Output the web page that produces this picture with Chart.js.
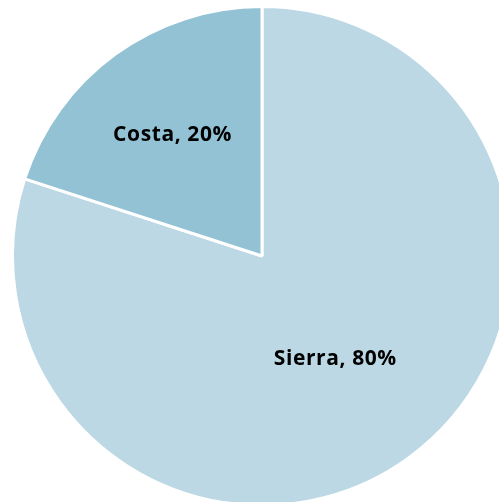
<!DOCTYPE html>
<html>
<head>
<meta charset="utf-8">
<script src="https://cdn.jsdelivr.net/npm/chart.js@4"></script>
<style>
  html, body { margin: 0; padding: 0; background: #fff; overflow: hidden; width: 499px; height: 502px; }
  #wrap { position: absolute; left: 0; top: 0; width: 524px; height: 512px; }
</style>
</head>
<body>
<div id="wrap"><canvas id="chart"></canvas></div>
<script>
// Données
const labels = ["Sierra", "Costa"];
const values = [80, 20];
const colors = ["#BCD8E4", "#93C2D4"];
// distance du libellé au centre, en fraction du rayon
const labelRadius = [0.5, 0.61];

const sliceLabels = {
  id: "sliceLabels",
  afterDatasetsDraw(chart) {
    const ctx = chart.ctx;
    const meta = chart.getDatasetMeta(0);
    const total = values.reduce((a, b) => a + b, 0);
    ctx.save();
    ctx.font = "bold 21px 'Open Sans', sans-serif";
    ctx.letterSpacing = "0.6px";
    ctx.fillStyle = "#000";
    ctx.textAlign = "center";
    ctx.textBaseline = "middle";
    meta.data.forEach((arc, i) => {
      const mid = (arc.startAngle + arc.endAngle) / 2;
      const r = arc.outerRadius * labelRadius[i];
      const x = arc.x + Math.cos(mid) * r;
      const y = arc.y + Math.sin(mid) * r + 2;
      const pct = Math.round(values[i] / total * 100);
      ctx.fillText(`${labels[i]}, ${pct}%`, x, y);
    });
    ctx.restore();
  }
};

new Chart(document.getElementById("chart").getContext("2d"), {
  type: "pie",
  data: {
    labels,
    datasets: [{
      data: values,
      backgroundColor: colors,
      borderColor: "#fff",
      borderWidth: 3
    }]
  },
  options: {
    responsive: true,
    maintainAspectRatio: false,
    animation: false,
    layout: { padding: 5 },
    plugins: { legend: { display: false }, tooltip: { enabled: false } }
  },
  plugins: [sliceLabels]
});
</script>
</body>
</html>
